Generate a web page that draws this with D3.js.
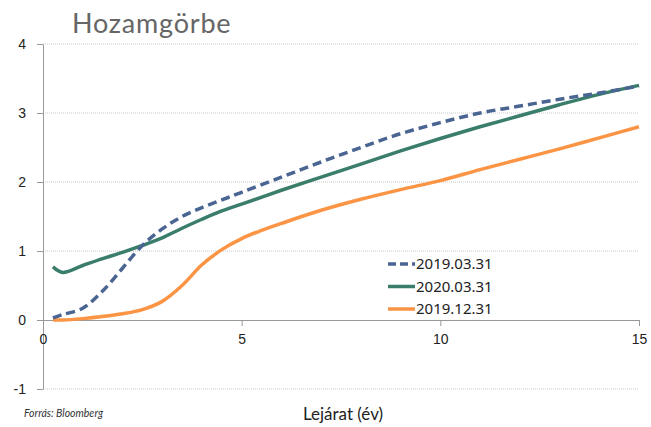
<!DOCTYPE html>
<html>
<head>
<meta charset="utf-8">
<script src="https://cdn.jsdelivr.net/npm/d3@7"></script>
<style>
  body { margin: 0; background: #fff; }
  svg { display: block; font-family: "Noto Sans", sans-serif; }
</style>
</head>
<body>
<div id="chart"></div>
<script>
const yTicks = [-1, 0, 1, 2, 3, 4];
const xTicks = [0, 5, 10, 15];

const seriesNames = ["2019.03.31", "2020.03.31", "2019.12.31"];

const mar19 = [
  [0.25, 0.03], [0.5, 0.08], [1, 0.17], [1.5, 0.42], [2, 0.75], [2.5, 1.08],
  [3, 1.32], [3.5, 1.5], [4, 1.63], [4.5, 1.74], [5, 1.85], [6, 2.07],
  [7, 2.29], [8, 2.5], [9, 2.7], [10, 2.86], [11, 3.0], [12, 3.1],
  [13, 3.2], [14, 3.29], [15, 3.39]
];
const mar20 = [
  [0.25, 0.77], [0.5, 0.69], [1, 0.79], [1.5, 0.89], [2, 0.98], [2.5, 1.08],
  [3, 1.19], [3.5, 1.33], [4, 1.46], [4.5, 1.58], [5, 1.68], [6, 1.88],
  [7, 2.07], [8, 2.26], [9, 2.45], [10, 2.63], [11, 2.8], [12, 2.96],
  [13, 3.12], [14, 3.27], [15, 3.4]
];
const dec19 = [
  [0.25, 0.0], [0.5, 0.0], [1, 0.02], [1.5, 0.05], [2, 0.09], [2.5, 0.15],
  [3, 0.27], [3.5, 0.5], [4, 0.8], [4.5, 1.02], [5, 1.18], [5.5, 1.3],
  [6, 1.4], [7, 1.59], [8, 1.75], [9, 1.89], [10, 2.02], [11, 2.18],
  [12, 2.33], [13, 2.48], [14, 2.64], [15, 2.8]
];

const W = 651, H = 427;
const plotLeft = 43, plotRight = 639, plotTop = 44, plotBottom = 389;

const svg = d3.select("#chart").append("svg")
  .attr("width", W)
  .attr("height", H);

const x = d3.scaleLinear().domain([0, 15]).range([plotLeft, plotRight]);
const y = d3.scaleLinear().domain([-1, 4]).range([plotBottom, plotTop]);

// gridlines
svg.append("g")
  .selectAll("line")
  .data(yTicks.filter(d => d !== 0))
  .enter().append("line")
  .attr("x1", plotLeft).attr("x2", plotRight)
  .attr("y1", d => y(d)).attr("y2", d => y(d))
  .attr("stroke", "#c8c8c8")
  .attr("stroke-width", 1)
  .attr("stroke-dasharray", "1,1");

// y axis
const yAxis = svg.append("g")
  .attr("transform", `translate(${plotLeft},0)`)
  .call(d3.axisLeft(y).tickValues(yTicks).tickSize(6).tickSizeOuter(0).tickFormat(d => String(d)));
yAxis.select(".domain").attr("stroke", "#999");
yAxis.selectAll(".tick line").attr("stroke", "#999");
yAxis.selectAll(".tick text")
  .attr("x", -17)
  .style("font-size", "14px")
  .attr("fill", "#222");

// x axis on zero line
const xAxis = svg.append("g")
  .attr("transform", `translate(0,${y(0)})`)
  .call(d3.axisBottom(x).tickValues(xTicks).tickSize(6).tickSizeOuter(0));
xAxis.select(".domain").attr("stroke", "#999");
xAxis.selectAll(".tick line").attr("stroke", "#999");
xAxis.selectAll(".tick text")
  .attr("y", 14)
  .style("font-size", "14px")
  .attr("fill", "#222");

const line = d3.line()
  .x(d => x(d[0]))
  .y(d => y(d[1]))
  .curve(d3.curveCatmullRom.alpha(0.5));

const series = [
  { name: seriesNames[0], values: mar19, color: "#4a6592", dash: "9,5" },
  { name: seriesNames[1], values: mar20, color: "#3a7d6b", dash: null },
  { name: seriesNames[2], values: dec19, color: "#fb9444", dash: null }
];

// draw orange first, then green, then blue on top
[series[2], series[1], series[0]].forEach(s => {
  svg.append("path")
    .datum(s.values)
    .attr("fill", "none")
    .attr("stroke", s.color)
    .attr("stroke-width", 3.5)
    .attr("stroke-dasharray", s.dash)
    .attr("d", line);
});

// legend
const legend = svg.append("g").attr("transform", "translate(388,264)");
series.forEach((s, i) => {
  legend.append("line")
    .attr("x1", 0).attr("x2", 27)
    .attr("y1", i * 22.5).attr("y2", i * 22.5)
    .attr("stroke", s.color)
    .attr("stroke-width", 3.5)
    .attr("stroke-dasharray", s.dash ? "8,4" : null);
  legend.append("text")
    .attr("x", 28)
    .attr("y", i * 22.5 + 5)
    .style("font-size", "15px")
    .attr("fill", "#222")
    .text(s.name);
});

// title
svg.append("text")
  .attr("x", 72)
  .attr("y", 33)
  .style("font-family", "Lato, sans-serif")
  .style("font-size", "27px")
  .style("letter-spacing", "0.8px")
  .attr("fill", "#666")
  .text("Hozamgörbe");

// x axis title
svg.append("text")
  .attr("x", 343)
  .attr("y", 420)
  .attr("text-anchor", "middle")
  .style("font-family", "Lato, sans-serif")
  .style("font-size", "17px")
  .attr("fill", "#222")
  .text("Lejárat (év)");

// source
svg.append("text")
  .attr("x", 24)
  .attr("y", 417)
  .style("font-family", "Lato, sans-serif")
  .style("font-size", "10.5px")
  .style("font-style", "italic")
  .attr("fill", "#333")
  .text("Forrás: Bloomberg");
</script>
</body>
</html>
